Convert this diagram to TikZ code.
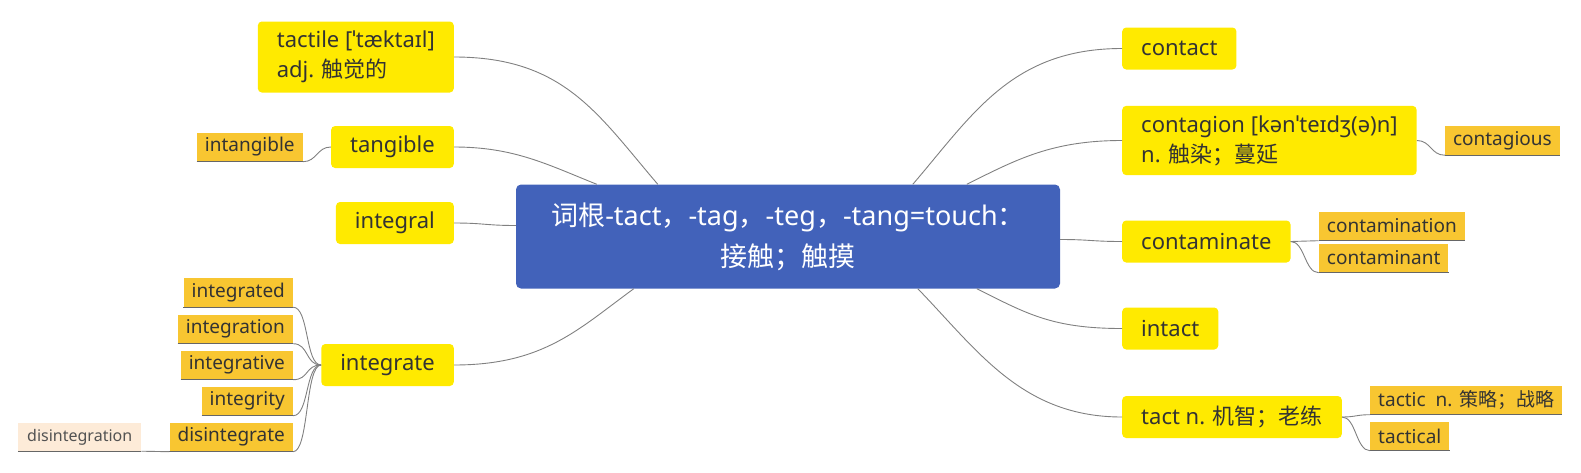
\documentclass[tikz,border=0pt]{standalone}
\usepackage{fontspec}
\setmainfont{Noto Sans}
\newfontfamily\cjk{Noto Sans CJK SC}
\usetikzlibrary{positioning}
\definecolor{rootblue}{HTML}{4262BA}
\definecolor{leafyellow}{HTML}{FFEA00}
\definecolor{suborange}{HTML}{F8C631}
\definecolor{paleorange}{HTML}{FDEBD8}
\definecolor{ink}{HTML}{333333}
\definecolor{linegray}{HTML}{808080}

\begin{document}
\begin{tikzpicture}[x=1pt,y=-1pt,node distance=28pt,
  every node/.style={text=ink},
  root/.style={fill=rootblue,rounded corners=5pt,minimum width=544pt,minimum height=104pt,text=white,align=center,font=\fontsize{27}{41}\selectfont},
  word/.style={fill=leafyellow,rounded corners=4pt,inner xsep=19pt,inner ysep=9.5pt,minimum height=42pt,align=left,font=\fontsize{22}{30}\selectfont},
  sub/.style={fill=suborange,inner xsep=8pt,inner ysep=0pt,minimum height=29pt,font=\fontsize{19}{23}\selectfont},
  subsub/.style={fill=paleorange,inner xsep=9pt,inner ysep=0pt,minimum height=28pt,font=\fontsize{16}{20}\selectfont,text=ink!85},
  wire/.style={draw=linegray,line width=0.9pt},
  subline/.style={draw=linegray!80!black,line width=1pt}]
  \useasboundingbox (0,0) rectangle (1581,472);

  % root
  \node[root] (root) at (788,236.5) {{\cjk 词根}-tact{\cjk ，}-tag{\cjk ，}-teg{\cjk ，}-tang=touch{\cjk ：}\\{\cjk 接触；触摸}};

  % left words
  \node[word,anchor=east] (tactile) at (454,57) {tactile [ˈtæktaɪl]\\adj. {\cjk 触觉的}};
  \node[word,anchor=east] (tangible) at (454,147) {tangible};
  \node[word,anchor=east] (integral) at (454,223) {integral};
  \node[word,anchor=east] (integrate) at (454,365) {integrate};

  % right words
  \node[word,anchor=west] (contact) at (1122,48.5) {contact};
  \node[word,anchor=west] (contagion) at (1122,140.5) {contagion [kənˈteɪdʒ(ə)n]\\n. {\cjk 触染；蔓延}};
  \node[word,anchor=west] (contaminate) at (1122,241.5) {contaminate};
  \node[word,anchor=west] (intact) at (1122,328.5) {intact};
  \node[word,anchor=west] (tact) at (1122,417) {tact n. {\cjk 机智；老练}};

  % derived words
  \node[sub,left=of tangible] (intangible) {intangible};
  \node[sub,left=of integrate,yshift=72.5pt] (integrated) {integrated};
  \node[sub,left=of integrate,yshift=36pt] (integration) {integration};
  \node[sub,left=of integrate] (integrative) {integrative};
  \node[sub,left=of integrate,yshift=-36pt] (integrity) {integrity};
  \node[sub,left=of integrate,yshift=-72pt] (disintegrate) {disintegrate};
  \node[subsub,left=of disintegrate] (disintegration) {disintegration};
  \node[sub,right=of contagion] (contagious) {contagious};
  \node[sub,right=of contaminate,yshift=15.5pt] (contamination) {contamination};
  \node[sub,right=of contaminate,yshift=-16.5pt] (contaminant) {contaminant};
  \node[sub,right=of tact,yshift=17pt] (tactic) {tactic\ \ n. {\cjk 策略；战略}};
  \node[sub,right=of tact,yshift=-19pt] (tactical) {tactical};

  \foreach \n in {intangible,integrated,integration,integrative,integrity,disintegrate,disintegration,contagious,contamination,contaminant,tactic,tactical}
    \draw[subline] (\n.south west) -- (\n.south east);

  % root to words
  \draw[wire] ([xshift=142pt]root.north west) .. controls +(-60,-70) and +(110,0) .. (tactile.east);
  \draw[wire] ([xshift=81pt]root.north west) .. controls +(-50,-20) and +(60,0) .. (tangible.east);
  \draw[wire] ([yshift=11pt]root.west) .. controls +(-30,0) and +(30,0) .. (integral.east);
  \draw[wire] ([xshift=118pt]root.south west) .. controls +(-55,40) and +(90,0) .. (integrate.east);
  \draw[wire] ([xshift=397pt]root.north west) .. controls +(60,-70) and +(-110,0) .. (contact.west);
  \draw[wire] ([xshift=451pt]root.north west) .. controls +(50,-25) and +(-70,0) .. (contagion.west);
  \draw[wire] ([yshift=-3pt]root.east) .. controls +(30,0) and +(-30,0) .. (contaminate.west);
  \draw[wire] ([xshift=461pt]root.south west) .. controls +(50,25) and +(-70,0) .. (intact.west);
  \draw[wire] ([xshift=402pt]root.south west) .. controls +(60,62) and +(-100,0) .. (tact.west);

  % words to derived words
  \draw[wire] (tangible.west) .. controls +(-14,0) and +(14,0) .. (intangible.south east);
  \foreach \n in {integrated,integration,integrative,integrity,disintegrate}
    \draw[wire] (integrate.west) .. controls +(-16,0) and +(16,0) .. (\n.south east);
  \draw[wire] (disintegrate.south west) .. controls +(-14,0) and +(14,0) .. (disintegration.south east);
  \draw[wire] (contagion.east) .. controls +(14,0) and +(-14,0) .. (contagious.south west);
  \foreach \n in {contamination,contaminant}
    \draw[wire] (contaminate.east) .. controls +(14,0) and +(-14,0) .. (\n.south west);
  \foreach \n in {tactic,tactical}
    \draw[wire] (tact.east) .. controls +(14,0) and +(-14,0) .. (\n.south west);
\end{tikzpicture}
\end{document}
